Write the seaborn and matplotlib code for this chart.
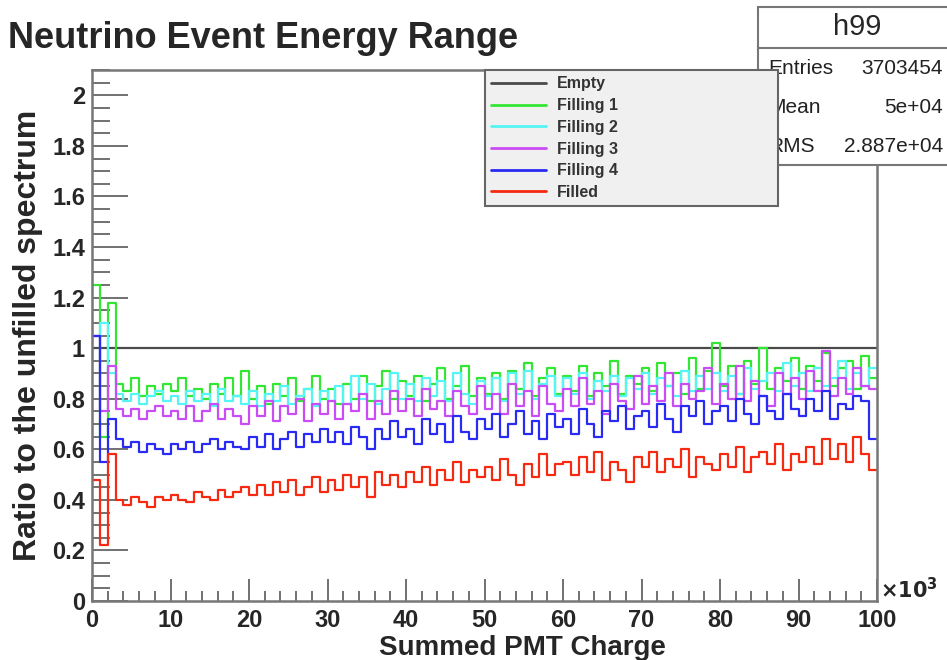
import numpy as np
import pandas as pd
import seaborn as sns
import matplotlib.pyplot as plt
from matplotlib.lines import Line2D
from matplotlib.patches import Rectangle
from matplotlib.ticker import MultipleLocator, FormatStrFormatter

sns.set_style("white")
plt.rcParams['font.family'] = ['Liberation Sans', 'DejaVu Sans']

# bins of Summed PMT Charge (x10^3), 100 bins from 0 to 100
n_bins = 100
x_range = (0, 100)

empty = [1.0] * 100
filling_1 = [1.25, 0.65, 1.18, 0.86, 0.83, 0.88, 0.81, 0.85, 0.82, 0.86,
             0.83, 0.88, 0.81, 0.84, 0.80, 0.86, 0.82, 0.88, 0.81, 0.91,
             0.80, 0.85, 0.78, 0.86, 0.81, 0.88, 0.79, 0.84, 0.89, 0.80,
             0.84, 0.78, 0.86, 0.80, 0.89, 0.79, 0.85, 0.91, 0.80, 0.87,
             0.81, 0.89, 0.79, 0.86, 0.92, 0.80, 0.85, 0.93, 0.81, 0.88,
             0.82, 0.90, 0.80, 0.91, 0.84, 0.94, 0.81, 0.88, 0.92, 0.82,
             0.89, 0.83, 0.93, 0.81, 0.90, 0.85, 0.95, 0.82, 0.89, 0.86,
             0.92, 0.83, 0.94, 0.85, 0.90, 0.82, 0.96, 0.84, 0.91, 1.02,
             0.85, 0.93, 0.82, 0.95, 0.86, 1.00, 0.84, 0.92, 0.87, 0.96,
             0.84, 0.93, 0.87, 0.98, 0.85, 0.92, 0.95, 0.84, 0.97, 0.88]
filling_2 = [1.05, 1.10, 0.90, 0.82, 0.79, 0.82, 0.78, 0.81, 0.83, 0.79,
             0.81, 0.78, 0.83, 0.79, 0.82, 0.77, 0.84, 0.79, 0.81, 0.78,
             0.83, 0.77, 0.82, 0.79, 0.85, 0.78, 0.81, 0.84, 0.77, 0.83,
             0.79, 0.85, 0.78, 0.89, 0.80, 0.86, 0.78, 0.84, 0.90, 0.80,
             0.86, 0.79, 0.88, 0.81, 0.87, 0.79, 0.90, 0.82, 0.78, 0.87,
             0.81, 0.88, 0.79, 0.90, 0.82, 0.91, 0.80, 0.86, 0.89, 0.81,
             0.88, 0.82, 0.90, 0.80, 0.87, 0.83, 0.89, 0.81, 0.88, 0.84,
             0.90, 0.82, 0.88, 0.85, 0.81, 0.91, 0.83, 0.89, 0.84, 0.90,
             0.83, 0.89, 0.82, 0.92, 0.84, 0.87, 0.90, 0.83, 0.94, 0.85,
             0.90, 0.83, 0.92, 0.85, 0.88, 0.95, 0.84, 0.90, 0.85, 0.92]
filling_3 = [1.05, 0.75, 0.93, 0.76, 0.73, 0.76, 0.72, 0.75, 0.77, 0.73,
             0.75, 0.72, 0.77, 0.71, 0.75, 0.78, 0.72, 0.76, 0.73, 0.70,
             0.77, 0.73, 0.79, 0.71, 0.77, 0.74, 0.80, 0.71, 0.78, 0.74,
             0.79, 0.72, 0.78, 0.75, 0.82, 0.72, 0.79, 0.74, 0.83, 0.75,
             0.80, 0.73, 0.84, 0.76, 0.79, 0.73, 0.83, 0.77, 0.74, 0.85,
             0.76, 0.82, 0.74, 0.86, 0.77, 0.83, 0.73, 0.85, 0.78, 0.75,
             0.84, 0.77, 0.88, 0.78, 0.83, 0.74, 0.86, 0.79, 0.76, 0.89,
             0.78, 0.85, 0.79, 0.90, 0.77, 0.86, 0.80, 0.83, 0.92, 0.78,
             0.86, 0.80, 0.93, 0.79, 0.87, 0.81, 0.77, 0.90, 0.82, 0.88,
             0.80, 0.91, 0.83, 0.99, 0.81, 0.88, 0.82, 0.92, 0.85, 0.84]
filling_4 = [1.05, 0.55, 0.72, 0.64, 0.61, 0.63, 0.59, 0.62, 0.60, 0.58,
             0.62, 0.60, 0.63, 0.59, 0.62, 0.64, 0.60, 0.63, 0.61, 0.60,
             0.65, 0.61, 0.66, 0.60, 0.64, 0.67, 0.61, 0.66, 0.63, 0.68,
             0.63, 0.67, 0.62, 0.69, 0.65, 0.60, 0.68, 0.64, 0.71, 0.65,
             0.68, 0.62, 0.72, 0.66, 0.70, 0.63, 0.73, 0.67, 0.64, 0.72,
             0.68, 0.74, 0.65, 0.70, 0.75, 0.66, 0.71, 0.64, 0.74, 0.69,
             0.72, 0.66, 0.76, 0.70, 0.65, 0.75, 0.71, 0.77, 0.68, 0.73,
             0.75, 0.69, 0.78, 0.72, 0.67, 0.77, 0.73, 0.79, 0.70, 0.75,
             0.77, 0.71, 0.80, 0.74, 0.70, 0.81, 0.75, 0.72, 0.82, 0.76,
             0.73, 0.80, 0.75, 0.83, 0.72, 0.78, 0.76, 0.81, 0.79, 0.64]
filled = [0.48, 0.22, 0.58, 0.40, 0.38, 0.41, 0.39, 0.37, 0.41, 0.40,
          0.42, 0.40, 0.39, 0.43, 0.41, 0.40, 0.44, 0.41, 0.43, 0.45,
          0.42, 0.46, 0.42, 0.47, 0.43, 0.48, 0.42, 0.45, 0.49, 0.43,
          0.48, 0.44, 0.50, 0.45, 0.49, 0.41, 0.51, 0.46, 0.50, 0.45,
          0.51, 0.47, 0.53, 0.46, 0.52, 0.48, 0.55, 0.47, 0.52, 0.49,
          0.53, 0.48, 0.56, 0.50, 0.46, 0.54, 0.49, 0.58, 0.50, 0.54,
          0.55, 0.50, 0.57, 0.51, 0.59, 0.48, 0.55, 0.52, 0.47, 0.57,
          0.53, 0.59, 0.51, 0.56, 0.53, 0.60, 0.49, 0.57, 0.54, 0.52,
          0.58, 0.53, 0.61, 0.51, 0.57, 0.59, 0.54, 0.62, 0.52, 0.58,
          0.55, 0.61, 0.54, 0.64, 0.56, 0.62, 0.55, 0.65, 0.58, 0.52]

labels = ['Empty', 'Filling 1', 'Filling 2', 'Filling 3', 'Filling 4', 'Filled']
series = [empty, filling_1, filling_2, filling_3, filling_4, filled]
colors = ['#4a4a4a', '#33e633', '#55f5f5', '#c94cf5', '#2a2af5', '#f52a10']

stat_names = ['Entries', 'Mean', 'RMS']
stat_values = ['3703454', '5e+04', '2.887e+04']

edges = np.linspace(x_range[0], x_range[1], n_bins + 1)
centers = (edges[:-1] + edges[1:]) / 2

fig = plt.figure(figsize=(9.47, 6.6), dpi=100)
ax = fig.add_axes([92/947, 59/660, 785/947, 531/660])

for lab, vals, col in zip(labels, series, colors):
    df = pd.DataFrame({'charge': centers, 'ratio': vals})
    sns.histplot(data=df, x='charge', weights='ratio', bins=n_bins,
                 binrange=x_range, element='step', fill=False, color=col,
                 linewidth=1.6, ax=ax)

ax.set_xlim(0, 100)
ax.set_ylim(0, 2.1)
ax.xaxis.set_major_locator(MultipleLocator(10))
ax.xaxis.set_minor_locator(MultipleLocator(2))
ax.yaxis.set_major_locator(MultipleLocator(0.2))
ax.yaxis.set_minor_locator(MultipleLocator(0.05))
ax.xaxis.set_major_formatter(FormatStrFormatter('%g'))
ax.yaxis.set_major_formatter(FormatStrFormatter('%g'))
ax.tick_params(which='both', direction='in', color='#666666', width=1.3,
               top=False, right=False, bottom=True, left=True)
ax.tick_params(axis='x', which='major', length=16, pad=6)
ax.tick_params(axis='x', which='minor', length=7)
ax.tick_params(axis='y', which='major', length=26, pad=5)
ax.tick_params(axis='y', which='minor', length=13)
for t in ax.get_xticklabels() + ax.get_yticklabels():
    t.set_fontsize(17)
    t.set_fontweight('bold')
for sp in ax.spines.values():
    sp.set_color('#777777')
    sp.set_linewidth(1.8)

ax.set_xlabel('Summed PMT Charge', fontsize=20, fontweight='bold')
ax.set_ylabel('Ratio to the unfilled spectrum', fontsize=23, fontweight='bold')
ax.xaxis.label.set_va('baseline')
ax.xaxis.set_label_coords(0.548, -0.102)
ax.yaxis.set_label_coords(-0.063, 0.5)

fig.text(8/947, 1 - 48/660, 'Neutrino Event Energy Range', fontsize=26,
         fontweight='bold', va='baseline', ha='left')
fig.text(880/947, 1 - 590/660, r'$\mathbf{\times10^{3}}$', fontsize=15,
         va='center', ha='left')

# stats box
fig.add_artist(Rectangle((758/947, 1 - 165/660), 200/947, 158/660,
                         transform=fig.transFigure, facecolor='white',
                         edgecolor='#777777', linewidth=1.5, zorder=2))
fig.add_artist(Line2D([758/947, 1], [1 - 48/660, 1 - 48/660],
                      transform=fig.transFigure, color='#777777',
                      linewidth=1.5, zorder=2))
fig.text(857/947, 1 - 27/660, 'h99', fontsize=21, ha='center', va='center',
         zorder=3)
for i, (n, v) in enumerate(zip(stat_names, stat_values)):
    yy = 1 - (68 + 39.5 * i) / 660
    fig.text(768/947, yy, n, fontsize=15, ha='left', va='center', color='#222222')
    fig.text(943/947, yy, v, fontsize=15, ha='right', va='center', color='#222222')

handles = [Line2D([], [], color=c, linewidth=2) for c in colors]
leg = fig.legend(handles, labels, loc='upper left',
                 bbox_to_anchor=(485/947, 1 - 203/660, 293/947, 133/660),
                 bbox_transform=fig.transFigure, mode='expand',
                 borderaxespad=0, fancybox=False, framealpha=1,
                 handlelength=3.4, handletextpad=0.7, labelspacing=0.42,
                 borderpad=0.4,
                 prop={'size': 11.5, 'weight': 'bold'})
leg.get_frame().set_facecolor('#f0f0f0')
leg.get_frame().set_edgecolor('#666666')
leg.get_frame().set_linewidth(1.5)
for t in leg.get_texts():
    t.set_color('#333333')
leg.set_zorder(10)

plt.savefig('out.png', dpi=100)
